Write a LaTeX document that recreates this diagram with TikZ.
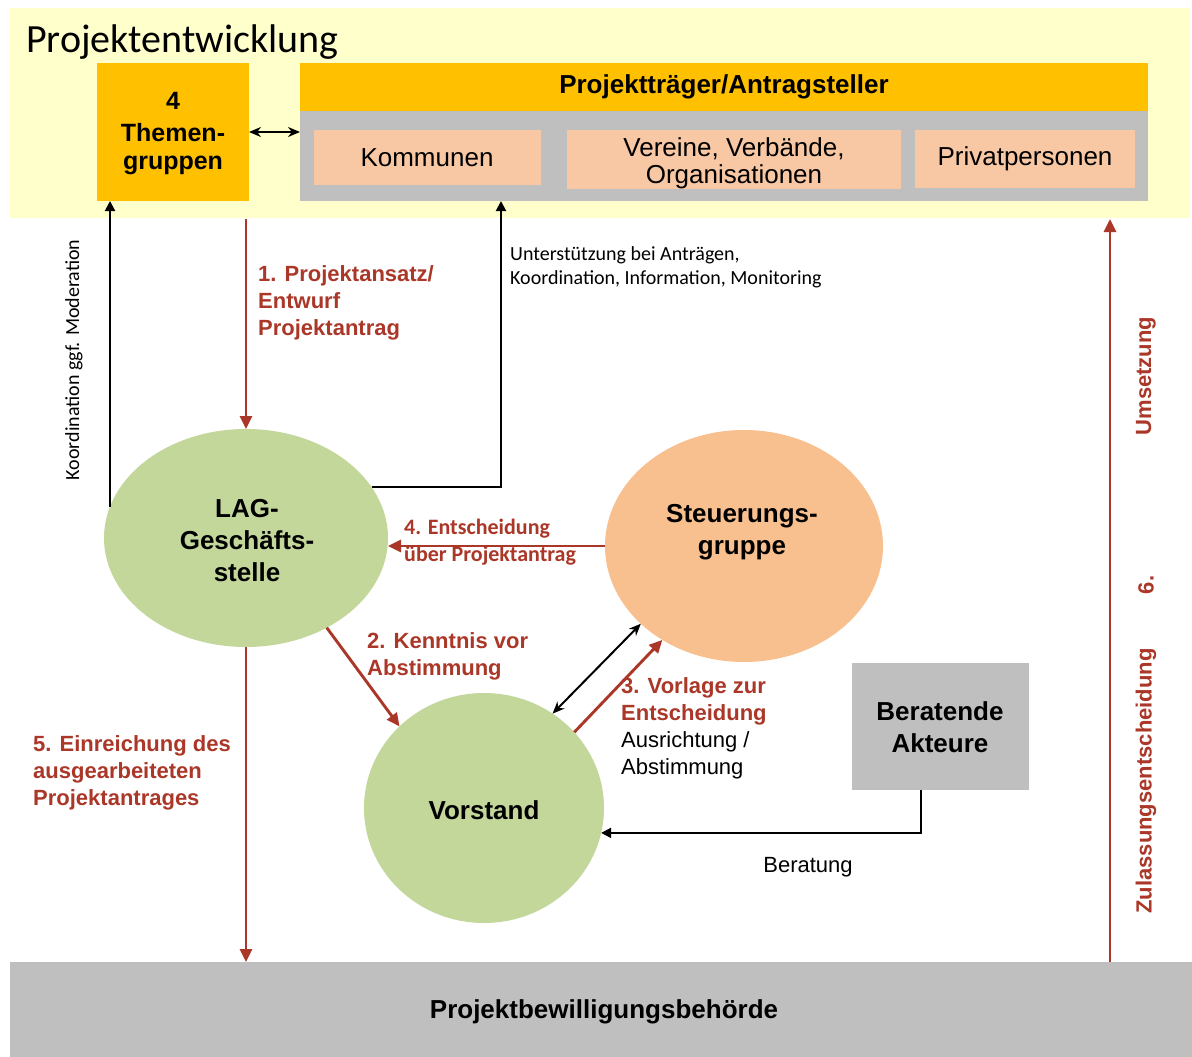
\documentclass[tikz,border=0pt]{standalone}
\usepackage{fontspec}
\setmainfont{Liberation Sans}
\newfontfamily\calfont{Carlito}
\usetikzlibrary{shapes.geometric,arrows.meta,calc}
\definecolor{band}{RGB}{255,255,204}
\definecolor{orng}{RGB}{255,192,0}
\definecolor{gry}{RGB}{191,191,191}
\definecolor{peach}{RGB}{248,200,165}
\definecolor{peachd}{RGB}{248,191,143}
\definecolor{grn}{RGB}{196,215,155}
\definecolor{myred}{RGB}{170,55,40}
\begin{document}
\begin{tikzpicture}[x=1pt,y=-1pt,
  boxnw/.style={inner sep=0pt, outer sep=0pt, anchor=north west},
  ell/.style={ellipse, inner sep=0pt, outer sep=0pt},
  redarr/.style={draw=myred, line width=2.9pt, -{Triangle[length=13pt,width=12pt]}},
  blkarr/.style={draw=black, line width=2pt, -{Triangle[length=10pt,width=10pt]}},
  blkdbl/.style={draw=black, line width=2pt, {Stealth[length=12pt,width=10pt]}-{Stealth[length=12pt,width=10pt]}},
  lbl/.style={font=\bfseries\fontsize{22}{27}\selectfont, text=myred, align=left, inner sep=0pt, anchor=north west},
  big/.style={font=\fontsize{26}{27}\selectfont, align=center, inner sep=0pt},
  bigb/.style={font=\bfseries\fontsize{26}{32}\selectfont, align=center, inner sep=0pt},
  small/.style={font=\calfont\fontsize{20}{24}\selectfont, align=left, inner sep=0pt}
]
\path[use as bounding box, fill=white] (0,0) rectangle (1192,1057);
% top band
\node[boxnw, fill=band, minimum width=1180pt, minimum height=210pt] (band) at (10,8) {};
\node[inner sep=0pt, anchor=north west, font=\calfont\fontsize{40}{42}\selectfont] (title) at (26,25) {Projektentwicklung};
\node[boxnw, fill=orng, minimum width=152pt, minimum height=138pt] (tg) at (97,63) {};
\node[font=\bfseries\fontsize{25}{28}\selectfont, align=center, inner sep=0pt] (tgt) at (173,134) {4\\[4pt]Themen-\\gruppen};
\node[boxnw, fill=orng, minimum width=848pt, minimum height=48pt] (hd) at (300,63) {};
\node[bigb] (hdt) at (724,87) {Projektträger/Antragsteller};
\node[boxnw, fill=gry, minimum width=848pt, minimum height=90pt] (grey) at (300,111) {};
\node[boxnw, fill=peach, minimum width=227pt, minimum height=55pt] (kom) at (314,130) {};
\node[big] (komt) at (427,158) {Kommunen};
\node[boxnw, fill=peach, minimum width=334pt, minimum height=59pt] (ver) at (567,130) {};
\node[big] (vert) at (734,163) {Vereine, Verbände,\\Organisationen};
\node[boxnw, fill=peach, minimum width=220pt, minimum height=58pt] (priv) at (915,130) {};
\node[big] (privt) at (1025,159) {Privatpersonen};
% bottom bar
\node[boxnw, fill=gry, minimum width=1182pt, minimum height=95pt] (bb) at (10,962) {};
\node[bigb] (bbt) at (604,1012) {Projektbewilligungsbehörde};
% ellipses
\node[ell, fill=grn, minimum width=284pt, minimum height=218pt] (lag) at (246,538) {};
\node[bigb] (lagt) at (247,541) {LAG-\\Geschäfts-\\stelle};
\node[ell, fill=peachd, minimum width=278pt, minimum height=232pt] (sg) at (744,546) {};
\node[bigb] (sgt) at (742,532) {Steuerungs-\\gruppe};
\node[ell, fill=grn, minimum width=240pt, minimum height=230pt] (vor) at (484,808) {};
\node[bigb] (vort) at (484,810) {Vorstand};
\node[boxnw, fill=gry, minimum width=177pt, minimum height=127pt] (ba) at (852,663) {};
\node[bigb] (bat) at (940,727) {Beratende\\Akteure};
% connectors
\draw[blkdbl] (tg.east) -- (tg.east -| grey.west);
\draw[blkarr] (lag.167) -- (lag.167 |- tg.south);
\coordinate (a1s) at (246,219);
\draw[redarr] (a1s) -- (lag.north);
\coordinate (ut) at (501,201);
\draw[blkarr] (lag.22) -| (ut);
\draw[redarr] (sg.west) -- (sg.west -| lag.east);
\draw[redarr] (lag.-48) -- (vor.136);
\draw[blkdbl] (vor.54) -- (sg.217);
\draw[redarr] (vor.40) -- (sg.229);
\draw[blkarr] ([xshift=-20pt]ba.south) |- (vor.-12);
\draw[redarr] (lag.south) -- (lag.south |- bb.north);
\coordinate (ums) at (1110,219);
\draw[redarr] (ums |- bb.north) -- (ums);
% labels
\node[small, rotate=90] (koord) at (74,360) {Koordination ggf. Moderation};
\node[lbl] (l1) at (258,265) {1. Projektansatz/\\Entwurf\\Projektantrag};
\node[small, anchor=north west] (lut) at (510,246) {Unterstützung bei Anträgen,\\Koordination, Information, Monitoring};
\node[inner sep=0pt, anchor=north west, align=left, text=myred, font=\calfont\bfseries\fontsize{22}{27}\selectfont] (l4) at (404,519) {4. Entscheidung\\über Projektantrag};
\node[lbl] (l2) at (367,632) {2. Kenntnis vor\\Abstimmung};
\node[lbl] (l3) at (621,677) {3. Vorlage zur\\Entscheidung\\\textcolor{black}{\mdseries Ausrichtung /}\\\textcolor{black}{\mdseries Abstimmung}};
\node[lbl] (l5) at (33,735) {5. Einreichung des\\ausgearbeiteten\\Projektantrages};
\node[inner sep=0pt, font=\fontsize{22}{27}\selectfont] (lber) at (808,867) {Beratung};
\node[inner sep=0pt, rotate=90, text=myred, font=\bfseries\fontsize{22}{27}\selectfont] (l6a) at (1146,781) {Zulassungsentscheidung};
\node[inner sep=0pt, rotate=90, text=myred, font=\bfseries\fontsize{22}{27}\selectfont] (l6b) at (1146,585) {6.};
\node[inner sep=0pt, rotate=90, text=myred, font=\bfseries\fontsize{22}{27}\selectfont] (l6c) at (1146,376) {Umsetzung};
\end{tikzpicture}
\end{document}
